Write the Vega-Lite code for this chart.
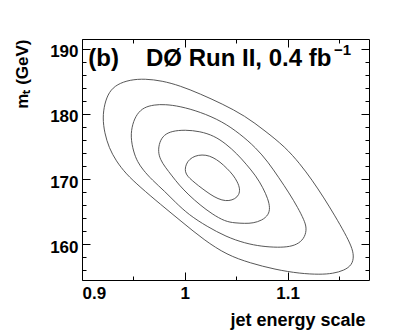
{
  "$schema": "https://vega.github.io/schema/vega-lite/v6.json",
  "width": 287,
  "height": 241,
  "autosize": {"type": "none"},
  "padding": {"left": 82, "top": 39, "right": 42, "bottom": 54},
  "background": "white",
  "config": {
    "view": {"stroke": "#000", "strokeWidth": 1},
    "axis": {
      "domain": false,
      "grid": false,
      "labelFont": "Liberation Sans",
      "labelFontWeight": "bold",
      "labelFontSize": 17,
      "labelColor": "#000",
      "tickColor": "#000",
      "tickWidth": 1,
      "titleFont": "Liberation Sans",
      "titleFontWeight": "bold",
      "titleColor": "#000"
    }
  },
  "datasets": {
    "contours": [
      {"level": 1, "i": 0, "jes": 1.0004, "mt": 171.11},
      {"level": 1, "i": 1, "jes": 1.0005, "mt": 171.87},
      {"level": 1, "i": 2, "jes": 1.0027, "mt": 172.72},
      {"level": 1, "i": 3, "jes": 1.0071, "mt": 173.33},
      {"level": 1, "i": 4, "jes": 1.0129, "mt": 173.69},
      {"level": 1, "i": 5, "jes": 1.0207, "mt": 173.72},
      {"level": 1, "i": 6, "jes": 1.0275, "mt": 173.33},
      {"level": 1, "i": 7, "jes": 1.0343, "mt": 172.64},
      {"level": 1, "i": 8, "jes": 1.0411, "mt": 171.64},
      {"level": 1, "i": 9, "jes": 1.0470, "mt": 170.65},
      {"level": 1, "i": 10, "jes": 1.0513, "mt": 169.57},
      {"level": 1, "i": 11, "jes": 1.0538, "mt": 168.49},
      {"level": 1, "i": 12, "jes": 1.0528, "mt": 167.57},
      {"level": 1, "i": 13, "jes": 1.0489, "mt": 166.96},
      {"level": 1, "i": 14, "jes": 1.0431, "mt": 166.65},
      {"level": 1, "i": 15, "jes": 1.0363, "mt": 166.73},
      {"level": 1, "i": 16, "jes": 1.0285, "mt": 167.27},
      {"level": 1, "i": 17, "jes": 1.0207, "mt": 168.11},
      {"level": 1, "i": 18, "jes": 1.0129, "mt": 169.03},
      {"level": 1, "i": 19, "jes": 1.0071, "mt": 169.80},
      {"level": 1, "i": 20, "jes": 1.0027, "mt": 170.42},

      {"level": 2, "i": 0, "jes": 0.9740, "mt": 174.18},
      {"level": 2, "i": 1, "jes": 0.9754, "mt": 175.71},
      {"level": 2, "i": 2, "jes": 0.9798, "mt": 176.79},
      {"level": 2, "i": 3, "jes": 0.9876, "mt": 177.37},
      {"level": 2, "i": 4, "jes": 1.0002, "mt": 177.56},
      {"level": 2, "i": 5, "jes": 1.0148, "mt": 177.33},
      {"level": 2, "i": 6, "jes": 1.0285, "mt": 176.64},
      {"level": 2, "i": 7, "jes": 1.0401, "mt": 175.41},
      {"level": 2, "i": 8, "jes": 1.0509, "mt": 173.87},
      {"level": 2, "i": 9, "jes": 1.0596, "mt": 172.33},
      {"level": 2, "i": 10, "jes": 1.0693, "mt": 170.49},
      {"level": 2, "i": 11, "jes": 1.0762, "mt": 168.65},
      {"level": 2, "i": 12, "jes": 1.0810, "mt": 166.96},
      {"level": 2, "i": 13, "jes": 1.0830, "mt": 165.58},
      {"level": 2, "i": 14, "jes": 1.0815, "mt": 164.50},
      {"level": 2, "i": 15, "jes": 1.0752, "mt": 163.66},
      {"level": 2, "i": 16, "jes": 1.0664, "mt": 163.24},
      {"level": 2, "i": 17, "jes": 1.0586, "mt": 163.19},
      {"level": 2, "i": 18, "jes": 1.0489, "mt": 163.27},
      {"level": 2, "i": 19, "jes": 1.0392, "mt": 163.50},
      {"level": 2, "i": 20, "jes": 1.0265, "mt": 164.65},
      {"level": 2, "i": 21, "jes": 1.0148, "mt": 166.04},
      {"level": 2, "i": 22, "jes": 1.0038, "mt": 167.57},
      {"level": 2, "i": 23, "jes": 0.9944, "mt": 169.11},
      {"level": 2, "i": 24, "jes": 0.9876, "mt": 170.49},
      {"level": 2, "i": 25, "jes": 0.9808, "mt": 171.87},
      {"level": 2, "i": 26, "jes": 0.9764, "mt": 172.95},

      {"level": 3, "i": 0, "jes": 0.9472, "mt": 176.48},
      {"level": 3, "i": 1, "jes": 0.9491, "mt": 178.48},
      {"level": 3, "i": 2, "jes": 0.9535, "mt": 180.02},
      {"level": 3, "i": 3, "jes": 0.9603, "mt": 181.01},
      {"level": 3, "i": 4, "jes": 0.9701, "mt": 181.40},
      {"level": 3, "i": 5, "jes": 0.9808, "mt": 181.47},
      {"level": 3, "i": 6, "jes": 0.9954, "mt": 181.17},
      {"level": 3, "i": 7, "jes": 1.0148, "mt": 180.32},
      {"level": 3, "i": 8, "jes": 1.0363, "mt": 178.86},
      {"level": 3, "i": 9, "jes": 1.0538, "mt": 176.94},
      {"level": 3, "i": 10, "jes": 1.0693, "mt": 174.79},
      {"level": 3, "i": 11, "jes": 1.0810, "mt": 172.64},
      {"level": 3, "i": 12, "jes": 1.0917, "mt": 170.18},
      {"level": 3, "i": 13, "jes": 1.1015, "mt": 167.88},
      {"level": 3, "i": 14, "jes": 1.1102, "mt": 165.58},
      {"level": 3, "i": 15, "jes": 1.1161, "mt": 163.73},
      {"level": 3, "i": 16, "jes": 1.1187, "mt": 162.50},
      {"level": 3, "i": 17, "jes": 1.1170, "mt": 161.12},
      {"level": 3, "i": 18, "jes": 1.1112, "mt": 160.12},
      {"level": 3, "i": 19, "jes": 1.1024, "mt": 159.62},
      {"level": 3, "i": 20, "jes": 1.0908, "mt": 159.51},
      {"level": 3, "i": 21, "jes": 1.0752, "mt": 159.66},
      {"level": 3, "i": 22, "jes": 1.0586, "mt": 160.15},
      {"level": 3, "i": 23, "jes": 1.0401, "mt": 161.17},
      {"level": 3, "i": 24, "jes": 1.0217, "mt": 162.73},
      {"level": 3, "i": 25, "jes": 1.0041, "mt": 164.50},
      {"level": 3, "i": 26, "jes": 0.9905, "mt": 166.50},
      {"level": 3, "i": 27, "jes": 0.9808, "mt": 168.08},
      {"level": 3, "i": 28, "jes": 0.9681, "mt": 169.88},
      {"level": 3, "i": 29, "jes": 0.9594, "mt": 171.41},
      {"level": 3, "i": 30, "jes": 0.9540, "mt": 172.64},
      {"level": 3, "i": 31, "jes": 0.9501, "mt": 174.18},

      {"level": 4, "i": 0, "jes": 0.9201, "mt": 179.40},
      {"level": 4, "i": 1, "jes": 0.9219, "mt": 181.55},
      {"level": 4, "i": 2, "jes": 0.9263, "mt": 183.39},
      {"level": 4, "i": 3, "jes": 0.9341, "mt": 184.55},
      {"level": 4, "i": 4, "jes": 0.9467, "mt": 185.24},
      {"level": 4, "i": 5, "jes": 0.9613, "mt": 185.39},
      {"level": 4, "i": 6, "jes": 0.9779, "mt": 185.08},
      {"level": 4, "i": 7, "jes": 0.9954, "mt": 184.32},
      {"level": 4, "i": 8, "jes": 1.0148, "mt": 183.09},
      {"level": 4, "i": 9, "jes": 1.0363, "mt": 181.55},
      {"level": 4, "i": 10, "jes": 1.0586, "mt": 179.71},
      {"level": 4, "i": 11, "jes": 1.0781, "mt": 177.40},
      {"level": 4, "i": 12, "jes": 1.0976, "mt": 174.95},
      {"level": 4, "i": 13, "jes": 1.1122, "mt": 172.33},
      {"level": 4, "i": 14, "jes": 1.1238, "mt": 169.88},
      {"level": 4, "i": 15, "jes": 1.1355, "mt": 167.11},
      {"level": 4, "i": 16, "jes": 1.1462, "mt": 164.35},
      {"level": 4, "i": 17, "jes": 1.1560, "mt": 161.66},
      {"level": 4, "i": 18, "jes": 1.1623, "mt": 159.66},
      {"level": 4, "i": 19, "jes": 1.1647, "mt": 158.20},
      {"level": 4, "i": 20, "jes": 1.1628, "mt": 156.82},
      {"level": 4, "i": 21, "jes": 1.1550, "mt": 155.98},
      {"level": 4, "i": 22, "jes": 1.1443, "mt": 155.51},
      {"level": 4, "i": 23, "jes": 1.1316, "mt": 155.36},
      {"level": 4, "i": 24, "jes": 1.1122, "mt": 155.51},
      {"level": 4, "i": 25, "jes": 1.0878, "mt": 156.13},
      {"level": 4, "i": 26, "jes": 1.0635, "mt": 157.13},
      {"level": 4, "i": 27, "jes": 1.0411, "mt": 158.36},
      {"level": 4, "i": 28, "jes": 1.0187, "mt": 160.66},
      {"level": 4, "i": 29, "jes": 0.9973, "mt": 163.43},
      {"level": 4, "i": 30, "jes": 0.9759, "mt": 166.19},
      {"level": 4, "i": 31, "jes": 0.9564, "mt": 168.80},
      {"level": 4, "i": 32, "jes": 0.9428, "mt": 170.80},
      {"level": 4, "i": 33, "jes": 0.9331, "mt": 172.80},
      {"level": 4, "i": 34, "jes": 0.9263, "mt": 174.79},
      {"level": 4, "i": 35, "jes": 0.9219, "mt": 177.10}
    ],
    "header": [
      {"jes": 0.9061, "mt": 187.39, "t": "(b)"},
      {"jes": 0.9623, "mt": 187.39, "t": "DØ Run II, 0.4 fb"}
    ],
    "sup": [
      {"jes": 1.1452, "mt": 189.08, "t": "−1"}
    ]
  },
  "layer": [
    {
      "data": {"name": "contours"},
      "mark": {"type": "line", "interpolate": "basis-closed", "stroke": "#444", "strokeWidth": 0.9},
      "encoding": {
        "x": {
          "field": "jes", "type": "quantitative",
          "scale": {"domain": [0.9, 1.1793], "nice": false, "zero": false},
          "axis": {
            "orient": "bottom", "values": [0.9, 1, 1.1], "tickSize": -8,
            "labelFlush": true, "labelPadding": 26, "labelBaseline": "alphabetic",
            "format": "~g",
            "title": "jet energy scale", "titleFontSize": 18,
            "titleAnchor": "end", "titleAlign": "right", "titleBaseline": "alphabetic",
            "titleX": 283, "titleY": 45
          }
        },
        "y": {
          "field": "mt", "type": "quantitative",
          "scale": {"domain": [154.52, 191.49], "nice": false, "zero": false},
          "axis": {
            "orient": "left", "values": [160, 170, 180, 190], "tickSize": -8,
            "labelPadding": 12, "labelOffset": 3,
            "title": "mₜ (GeV)", "titleFontSize": 17,
            "titleAnchor": "end", "titleAlign": "right", "titleBaseline": "alphabetic",
            "titleAngle": 270, "titleX": -55, "titleY": 0
          }
        },
        "detail": {"field": "level"},
        "order": {"field": "i"}
      }
    },
    {
      "data": {"name": "contours"},
      "mark": {"type": "line", "strokeOpacity": 0},
      "encoding": {
        "x": {
          "field": "jes", "type": "quantitative",
          "scale": {"domain": [0.9, 1.1793], "nice": false, "zero": false},
          "axis": {"orient": "bottom", "values": [0.95, 1.05, 1.15], "tickSize": -4, "labels": false, "title": null}
        },
        "y": {
          "field": "mt", "type": "quantitative",
          "scale": {"domain": [154.52, 191.49], "nice": false, "zero": false},
          "axis": {"orient": "left", "values": [156, 158, 162, 164, 166, 168, 172, 174, 176, 178, 182, 184, 186, 188], "tickSize": -4, "labels": false, "title": null}
        },
        "detail": {"field": "level"},
        "order": {"field": "i"}
      }
    },
    {
      "data": {"name": "contours"},
      "mark": {"type": "line", "strokeOpacity": 0},
      "encoding": {
        "x": {
          "field": "jes", "type": "quantitative",
          "scale": {"domain": [0.9, 1.1793], "nice": false, "zero": false},
          "axis": {"orient": "top", "values": [0.9, 1, 1.1], "tickSize": -8, "labels": false, "title": null}
        },
        "y": {
          "field": "mt", "type": "quantitative",
          "scale": {"domain": [154.52, 191.49], "nice": false, "zero": false},
          "axis": {"orient": "right", "values": [160, 170, 180, 190], "tickSize": -8, "labels": false, "title": null}
        },
        "detail": {"field": "level"},
        "order": {"field": "i"}
      }
    },
    {
      "data": {"name": "contours"},
      "mark": {"type": "line", "strokeOpacity": 0},
      "encoding": {
        "x": {
          "field": "jes", "type": "quantitative",
          "scale": {"domain": [0.9, 1.1793], "nice": false, "zero": false},
          "axis": {"orient": "top", "values": [0.95, 1.05, 1.15], "tickSize": -4, "labels": false, "title": null}
        },
        "y": {
          "field": "mt", "type": "quantitative",
          "scale": {"domain": [154.52, 191.49], "nice": false, "zero": false},
          "axis": {"orient": "right", "values": [156, 158, 162, 164, 166, 168, 172, 174, 176, 178, 182, 184, 186, 188], "tickSize": -4, "labels": false, "title": null}
        },
        "detail": {"field": "level"},
        "order": {"field": "i"}
      }
    },
    {
      "data": {"name": "header"},
      "mark": {"type": "text", "font": "Liberation Sans", "fontWeight": "bold", "fontSize": 24, "align": "left", "baseline": "alphabetic", "color": "#000"},
      "encoding": {
        "x": {"field": "jes", "type": "quantitative", "scale": {"domain": [0.9, 1.1793], "nice": false, "zero": false}, "axis": null},
        "y": {"field": "mt", "type": "quantitative", "scale": {"domain": [154.52, 191.49], "nice": false, "zero": false}, "axis": null},
        "text": {"field": "t"}
      }
    },
    {
      "data": {"name": "sup"},
      "mark": {"type": "text", "font": "Liberation Sans", "fontWeight": "bold", "fontSize": 15, "align": "left", "baseline": "alphabetic", "color": "#000"},
      "encoding": {
        "x": {"field": "jes", "type": "quantitative", "scale": {"domain": [0.9, 1.1793], "nice": false, "zero": false}, "axis": null},
        "y": {"field": "mt", "type": "quantitative", "scale": {"domain": [154.52, 191.49], "nice": false, "zero": false}, "axis": null},
        "text": {"field": "t"}
      }
    }
  ],
  "resolve": {"axis": {"x": "independent", "y": "independent"}}
}
